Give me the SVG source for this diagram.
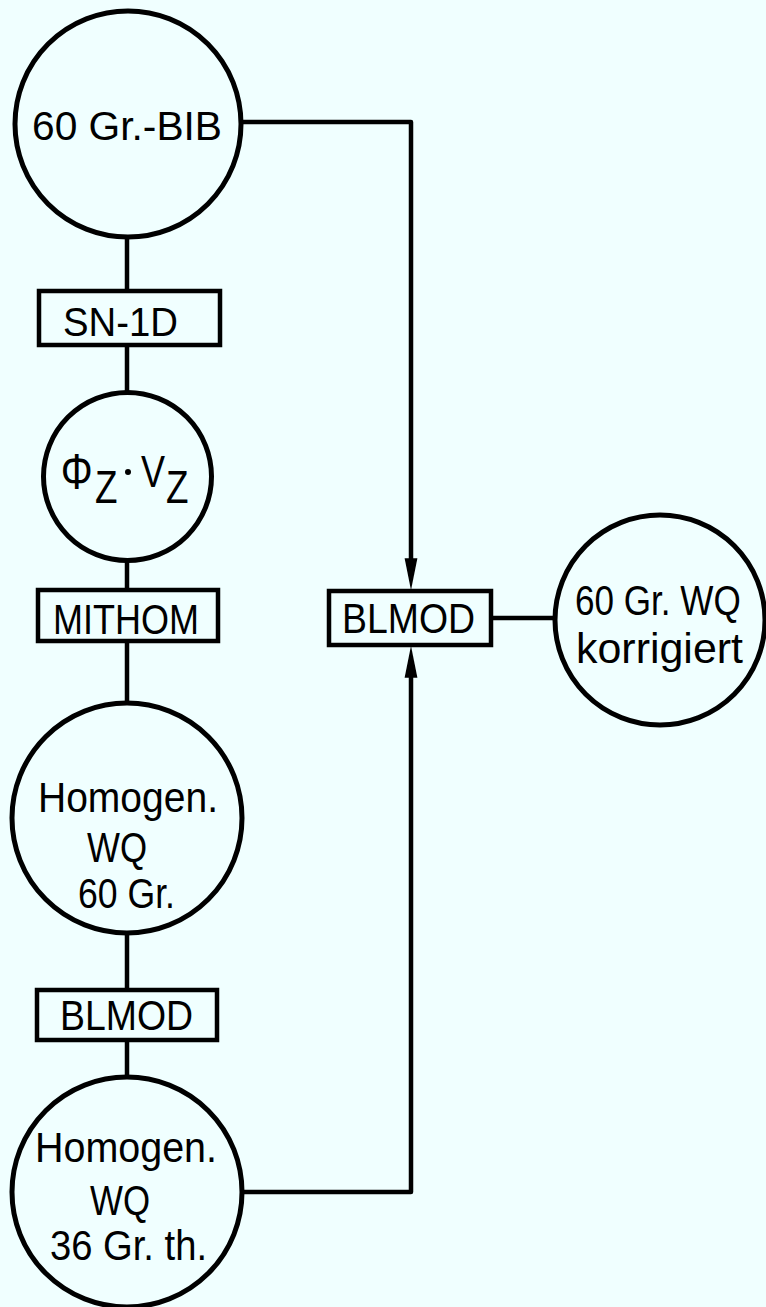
<svg xmlns="http://www.w3.org/2000/svg" width="766" height="1307" viewBox="0 0 766 1307">
<style>
.bg{fill:#F0FFFF}
.node{fill:none;stroke:#000;stroke-width:5}
.box{fill:none;stroke:#000;stroke-width:4.5}
.conn{fill:none;stroke:#000;stroke-width:4.5;stroke-linejoin:round}
.t{font-family:"Liberation Sans",Arial,sans-serif;font-size:42px;fill:#000}
</style>
<defs>
<marker id="arr" markerUnits="userSpaceOnUse" markerWidth="32" markerHeight="14" viewBox="0 0 30 12" refX="12" refY="6" orient="auto">
<path d="M0,0 L30,6 L0,12 z" fill="#000"/>
</marker>
</defs>
<rect class="bg" x="0" y="0" width="766" height="1307"/>
<g id="connectors">
<line class="conn" x1="127" y1="237" x2="127" y2="291"/>
<line class="conn" x1="127" y1="345" x2="127" y2="393"/>
<line class="conn" x1="127" y1="560" x2="127" y2="590"/>
<line class="conn" x1="127" y1="641" x2="127" y2="703"/>
<line class="conn" x1="127" y1="933" x2="127" y2="990"/>
<line class="conn" x1="127" y1="1040" x2="127" y2="1077"/>
<path class="conn" d="M241,122 H411 V571" marker-end="url(#arr)"/>
<path class="conn" d="M242,1192 H411 V665" marker-end="url(#arr)"/>
<line class="conn" x1="491" y1="618" x2="556" y2="618"/>
</g>
<g id="n-60grbib">
<circle class="node" cx="128" cy="124" r="113"/>
<text class="t" x="32" y="140" style="font-size:40px" textLength="190" lengthAdjust="spacingAndGlyphs">60 Gr.-BIB</text>
</g>
<g id="n-sn1d">
<rect class="box" x="39" y="291" width="181" height="54"/>
<text class="t" x="63" y="336" style="font-size:41px" textLength="115" lengthAdjust="spacingAndGlyphs">SN-1D</text>
</g>
<g id="n-phiv">
<circle class="node" cx="127.5" cy="476.5" r="84"/>
<text class="t" transform="scale(0.8,1)" style="font-size:46px"><tspan x="96" y="489" text-anchor="middle" style="font-size:50px">Φ</tspan><tspan x="118.75" y="503">Z</tspan><tspan x="176.25" y="487" style="font-size:45px">V</tspan><tspan x="207.5" y="503">Z</tspan></text>
<circle cx="128" cy="472" r="3" fill="#000"/>
</g>
<g id="n-mithom">
<rect class="box" x="38" y="590" width="180" height="51"/>
<text class="t" x="53" y="634" style="font-size:43px" textLength="146" lengthAdjust="spacingAndGlyphs">MITHOM</text>
</g>
<g id="n-homogen60">
<circle class="node" cx="127" cy="818" r="115"/>
<text class="t" x="38" y="812" textLength="180" lengthAdjust="spacingAndGlyphs">Homogen.</text>
<text class="t" x="87" y="862" textLength="60" lengthAdjust="spacingAndGlyphs">WQ</text>
<text class="t" x="78" y="908" textLength="97" lengthAdjust="spacingAndGlyphs">60 Gr.</text>
</g>
<g id="n-blmod1">
<rect class="box" x="37" y="990" width="180" height="50"/>
<text class="t" x="60" y="1030" style="font-size:43px" textLength="133" lengthAdjust="spacingAndGlyphs">BLMOD</text>
</g>
<g id="n-homogen36">
<circle class="node" cx="127" cy="1192" r="115"/>
<text class="t" x="35" y="1162" textLength="182" lengthAdjust="spacingAndGlyphs">Homogen.</text>
<text class="t" x="90" y="1215" textLength="60" lengthAdjust="spacingAndGlyphs">WQ</text>
<text class="t" x="50" y="1260" textLength="157" lengthAdjust="spacingAndGlyphs">36 Gr. th.</text>
</g>
<g id="n-blmod2">
<rect class="box" x="329" y="591" width="162" height="54"/>
<text class="t" x="342" y="633" textLength="133" lengthAdjust="spacingAndGlyphs">BLMOD</text>
</g>
<g id="n-korrigiert">
<circle class="node" cx="660" cy="620" r="105"/>
<text class="t" transform="translate(575,615) scale(0.836,1)" x="0" y="0">60 Gr. WQ</text>
<text class="t" x="576" y="663" textLength="167" lengthAdjust="spacingAndGlyphs">korrigiert</text>
</g>
</svg>
